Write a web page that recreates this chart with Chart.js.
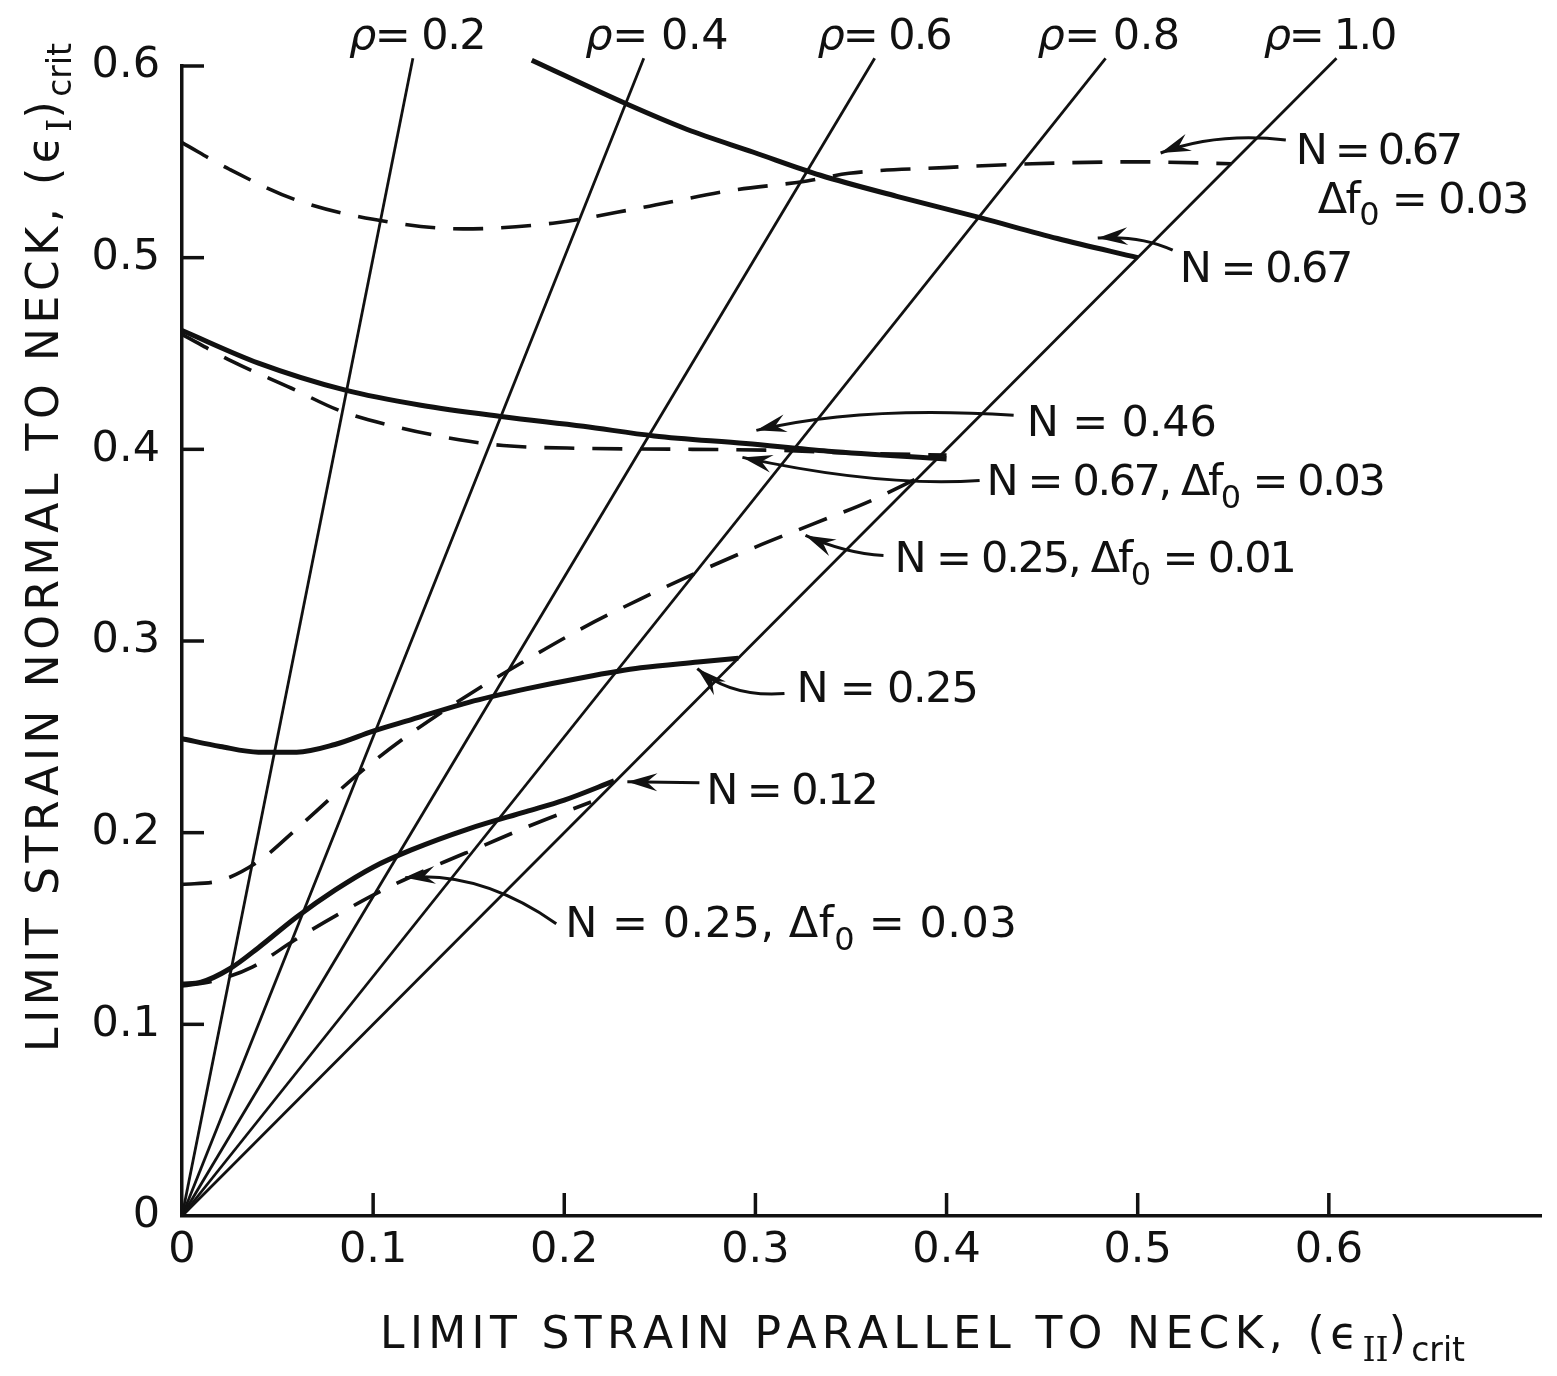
<!DOCTYPE html>
<html>
<head>
<meta charset="utf-8">
<script src="https://cdn.jsdelivr.net/npm/chart.js@4.4.1/dist/chart.umd.min.js"></script>
<style>
  html, body { margin: 0; padding: 0; background: #fff; }
  canvas { display: block; }
</style>
</head>
<body>
<canvas id="strainChart" width="1557" height="1376"></canvas>
<script>
// values (strain units)
const xTickValues = [0, 0.1, 0.2, 0.3, 0.4, 0.5, 0.6];
const yTickValues = [0, 0.1, 0.2, 0.3, 0.4, 0.5, 0.6];
const xTickLabels = ['0', '0.1', '0.2', '0.3', '0.4', '0.5', '0.6'];
const yTickLabels = ['0', '0.1', '0.2', '0.3', '0.4', '0.5', '0.6'];

// strain ratio lines eps_II = rho * eps_I
const rhoValues = [0.2, 0.4, 0.6, 0.8, 1.0];
const rhoLineTop = 0.604;

// [eps_II, eps_I]
const n067Solid = [[0.183, 0.603], [0.233, 0.580], [0.264, 0.567], [0.299, 0.555], [0.334, 0.543],
  [0.374, 0.532], [0.417, 0.521], [0.458, 0.510], [0.500, 0.500]];
const n067Df003Upper = [[0, 0.560], [0.025, 0.546], [0.060, 0.530], [0.100, 0.520], [0.147, 0.515],
  [0.194, 0.518], [0.240, 0.526], [0.287, 0.535], [0.327, 0.540], [0.349, 0.544], [0.399, 0.547],
  [0.445, 0.549], [0.500, 0.550], [0.549, 0.549]];
const n046Solid = [[0, 0.462], [0.040, 0.445], [0.085, 0.431], [0.125, 0.423], [0.168, 0.417],
  [0.210, 0.412], [0.247, 0.407], [0.295, 0.403], [0.338, 0.399], [0.400, 0.395]];
const n067Df003Lower = [[0, 0.460], [0.026, 0.446], [0.057, 0.432], [0.083, 0.420], [0.111, 0.412],
  [0.145, 0.405], [0.168, 0.402], [0.210, 0.4005], [0.267, 0.400], [0.310, 0.3995], [0.352, 0.398],
  [0.400, 0.397]];
const n025Df001 = [[0, 0.173], [0.02, 0.175], [0.04, 0.185], [0.06, 0.202], [0.08, 0.220], [0.10, 0.237],
  [0.12, 0.252], [0.15, 0.272], [0.18, 0.290], [0.21, 0.307], [0.24, 0.322], [0.27, 0.336],
  [0.30, 0.349], [0.33, 0.361], [0.36, 0.373], [0.385, 0.385]];
const n025Solid = [[0, 0.249], [0.02, 0.245], [0.04, 0.242], [0.06, 0.242], [0.08, 0.246], [0.10, 0.253],
  [0.12, 0.259], [0.15, 0.268], [0.18, 0.275], [0.21, 0.281], [0.24, 0.286], [0.27, 0.289],
  [0.291, 0.291]];
const n012Solid = [[0, 0.121], [0.01, 0.122], [0.025, 0.129], [0.04, 0.140], [0.06, 0.156], [0.08, 0.170],
  [0.10, 0.182], [0.12, 0.191], [0.15, 0.202], [0.18, 0.211], [0.20, 0.217], [0.226, 0.227]];
const n025Df003 = [[0, 0.120], [0.018, 0.123], [0.037, 0.130], [0.059, 0.144], [0.081, 0.157],
  [0.105, 0.170], [0.131, 0.182], [0.157, 0.193], [0.183, 0.204], [0.214, 0.216]];

// look
const ink = '#111';
const family = '"DejaVu Sans"';
const labelSize = 43;
const dashPattern = [30, 18];

// text notes: x, y = left edge / middle of caps in data units, w = width in px
const notes = [
  { parts: [{ t: 'ρ', italic: true }, { t: '= 0.2' }], x: 0.0874, y: 0.6167, w: 136 },
  { parts: [{ t: 'ρ', italic: true }, { t: '= 0.4' }], x: 0.2110, y: 0.6167, w: 143 },
  { parts: [{ t: 'ρ', italic: true }, { t: '= 0.6' }], x: 0.3325, y: 0.6167, w: 133 },
  { parts: [{ t: 'ρ', italic: true }, { t: '= 0.8' }], x: 0.4476, y: 0.6167, w: 142 },
  { parts: [{ t: 'ρ', italic: true }, { t: '= 1.0' }], x: 0.5660, y: 0.6167, w: 131 },
  { parts: [{ t: 'N = 0.67' }], x: 0.5827, y: 0.5572, w: 164 },
  { parts: [{ t: 'Δf' }, { t: '0', sub: true }, { t: ' = 0.03' }], x: 0.5942, y: 0.5316, w: 210 },
  { parts: [{ t: 'N = 0.67' }], x: 0.5220, y: 0.4956, w: 171 },
  { parts: [{ t: 'N = 0.46' }], x: 0.4419, y: 0.4151, w: 190 },
  { parts: [{ t: 'N = 0.67, Δf' }, { t: '0', sub: true }, { t: ' = 0.03' }], x: 0.4209, y: 0.3843, w: 397 },
  { parts: [{ t: 'N = 0.25, Δf' }, { t: '0', sub: true }, { t: ' = 0.01' }], x: 0.3728, y: 0.3441, w: 400 },
  { parts: [{ t: 'N = 0.25' }], x: 0.3215, y: 0.2762, w: 181 },
  { parts: [{ t: 'N = 0.12' }], x: 0.2743, y: 0.2230, w: 170 },
  { parts: [{ t: 'N = 0.25, Δf' }, { t: '0', sub: true }, { t: ' = 0.03' }], x: 0.2005, y: 0.1535, w: 452 }
];

// leader arrows: from label, bend, tip (data units)
const arrows = [
  [[0.5775, 0.5614], [0.541, 0.5655], [0.512, 0.5546]],
  [[0.5183, 0.5039], [0.5016, 0.5117], [0.4791, 0.5102]],
  [[0.4351, 0.4178], [0.355, 0.4230], [0.3005, 0.4099]],
  [[0.4173, 0.3838], [0.3654, 0.3802], [0.2932, 0.3958]],
  [[0.3670, 0.3446], [0.347, 0.3457], [0.3262, 0.3551]],
  [[0.3152, 0.2726], [0.2869, 0.2705], [0.2696, 0.2856]],
  [[0.2707, 0.2261], [0.252, 0.2263], [0.2330, 0.2266]],
  [[0.1958, 0.1525], [0.156, 0.1802], [0.1168, 0.1765]]
];

function curve(points, width, dash) {
  return {
    data: points.map(p => ({ x: p[0], y: p[1] })),
    showLine: true,
    borderColor: ink,
    borderWidth: width,
    borderDash: dash || [],
    borderCapStyle: 'butt',
    pointRadius: 0,
    cubicInterpolationMode: 'monotone',
    clip: false
  };
}

const datasets = [];
rhoValues.forEach(r => {
  const d = curve([[0, 0], [r * rhoLineTop, rhoLineTop]], 2.8);
  d.cubicInterpolationMode = 'default';
  d.tension = 0;
  datasets.push(d);
});
datasets.push(curve(n067Solid, 5));
datasets.push(curve(n067Df003Upper, 3.6, dashPattern));
datasets.push(curve(n046Solid, 5));
datasets.push(curve(n067Df003Lower, 3.6, dashPattern));
datasets.push(curve(n025Df001, 3.6, dashPattern));
datasets.push(curve(n025Solid, 5));
datasets.push(curve(n012Solid, 5));
datasets.push(curve(n025Df003, 3.6, dashPattern));

function partFont(p, size) {
  const s = p.sub ? Math.round(size * 0.75) : size;
  const fam = p.serif ? '"DejaVu Serif"' : family;
  return (p.italic ? 'italic ' : '') + s + 'px ' + fam;
}

// draws parts char by char, spreading the main letters to the wanted width
function drawRich(ctx, parts, x, baseline, size, width) {
  let natural = 0, count = 0;
  parts.forEach(p => {
    ctx.font = partFont(p, size);
    for (const ch of p.t) { natural += ctx.measureText(ch).width; if (!p.sub) count++; }
  });
  const gap = width ? (width - natural) / Math.max(count, 1) : 0;
  let cx = x;
  parts.forEach(p => {
    ctx.font = partFont(p, size);
    const dy = p.sub ? size * 0.3 : 0;
    for (const ch of p.t) {
      ctx.fillText(ch, cx, baseline + dy);
      cx += ctx.measureText(ch).width + (p.sub ? 0 : gap);
    }
  });
}

const inkPlugin = {
  id: 'ink',
  afterDraw(chart) {
    const { ctx } = chart;
    const xs = chart.scales.x, ys = chart.scales.y;
    const area = chart.chartArea;
    ctx.save();
    ctx.strokeStyle = ink;
    ctx.fillStyle = ink;
    ctx.lineCap = 'butt';

    // inward tick marks
    ctx.lineWidth = 3.5;
    xTickValues.forEach(v => {
      if (v === 0) return;
      const px = xs.getPixelForValue(v);
      ctx.beginPath(); ctx.moveTo(px, area.bottom); ctx.lineTo(px, area.bottom - 23); ctx.stroke();
    });
    yTickValues.forEach(v => {
      if (v === 0) return;
      const py = ys.getPixelForValue(v);
      ctx.beginPath(); ctx.moveTo(area.left, py); ctx.lineTo(area.left + 22, py); ctx.stroke();
    });

    // leader arrows
    ctx.lineWidth = 3;
    arrows.forEach(a => {
      const p = a.map(q => [xs.getPixelForValue(q[0]), ys.getPixelForValue(q[1])]);
      ctx.beginPath();
      ctx.moveTo(p[0][0], p[0][1]);
      ctx.quadraticCurveTo(p[1][0], p[1][1], p[2][0], p[2][1]);
      ctx.stroke();
      const ang = Math.atan2(p[2][1] - p[1][1], p[2][0] - p[1][0]);
      const len = 30, half = 9;
      const c = Math.cos(ang), s = Math.sin(ang);
      ctx.beginPath();
      ctx.moveTo(p[2][0], p[2][1]);
      ctx.lineTo(p[2][0] - len * c + half * s, p[2][1] - len * s - half * c);
      ctx.lineTo(p[2][0] - len * 0.65 * c, p[2][1] - len * 0.65 * s);
      ctx.lineTo(p[2][0] - len * c - half * s, p[2][1] - len * s + half * c);
      ctx.closePath();
      ctx.fill();
    });

    // curve labels
    ctx.textAlign = 'left';
    ctx.textBaseline = 'alphabetic';
    notes.forEach(n => {
      const px = xs.getPixelForValue(n.x);
      const py = ys.getPixelForValue(n.y) + labelSize * 0.36;
      drawRich(ctx, n.parts, px, py, labelSize, n.w);
    });

    // axis titles
    drawRich(ctx, [{ t: 'LIMIT STRAIN PARALLEL TO NECK, (ϵ' }, { t: 'II', sub: true, serif: true },
      { t: ')' }, { t: 'crit', sub: true }], 380, 1348, 44, 1085);
    ctx.translate(58, 1052);
    ctx.rotate(-Math.PI / 2);
    drawRich(ctx, [{ t: 'LIMIT STRAIN NORMAL TO NECK, (ϵ' }, { t: 'I', sub: true, serif: true },
      { t: ')' }, { t: 'crit', sub: true }], 0, 0, 44, 1009);
    ctx.restore();
  }
};

const config = {
  type: 'scatter',
  data: { datasets: datasets },
  options: {
    responsive: false,
    animation: false,
    devicePixelRatio: 1,
    layout: { padding: { top: 66, right: 16, left: 0, bottom: 0 } },
    plugins: { legend: { display: false }, tooltip: { enabled: false } },
    scales: {
      x: {
        type: 'linear',
        min: 0,
        max: 0.711,
        grid: { display: true, drawOnChartArea: false, drawTicks: false },
        border: { display: true, color: ink, width: 3.5 },
        afterBuildTicks: s => { s.ticks = xTickValues.map(v => ({ value: v })); },
        afterFit: s => { s.height = 160; },
        ticks: {
          callback: (v, i) => xTickLabels[i],
          color: ink,
          font: { family: 'DejaVu Sans', size: labelSize },
          padding: 9,
          maxRotation: 0,
          autoSkip: false
        }
      },
      y: {
        type: 'linear',
        min: 0,
        max: 0.6,
        grid: { display: true, drawOnChartArea: false, drawTicks: false },
        border: { display: true, color: ink, width: 3.5 },
        afterBuildTicks: s => { s.ticks = yTickValues.map(v => ({ value: v })); },
        afterFit: s => { s.width = 182; },
        ticks: {
          callback: (v, i) => yTickLabels[i],
          color: ink,
          font: { family: 'DejaVu Sans', size: labelSize },
          padding: 22,
          autoSkip: false
        }
      }
    }
  },
  plugins: [inkPlugin]
};

const strainChart = new Chart(document.getElementById('strainChart'), config);
</script>
</body>
</html>
